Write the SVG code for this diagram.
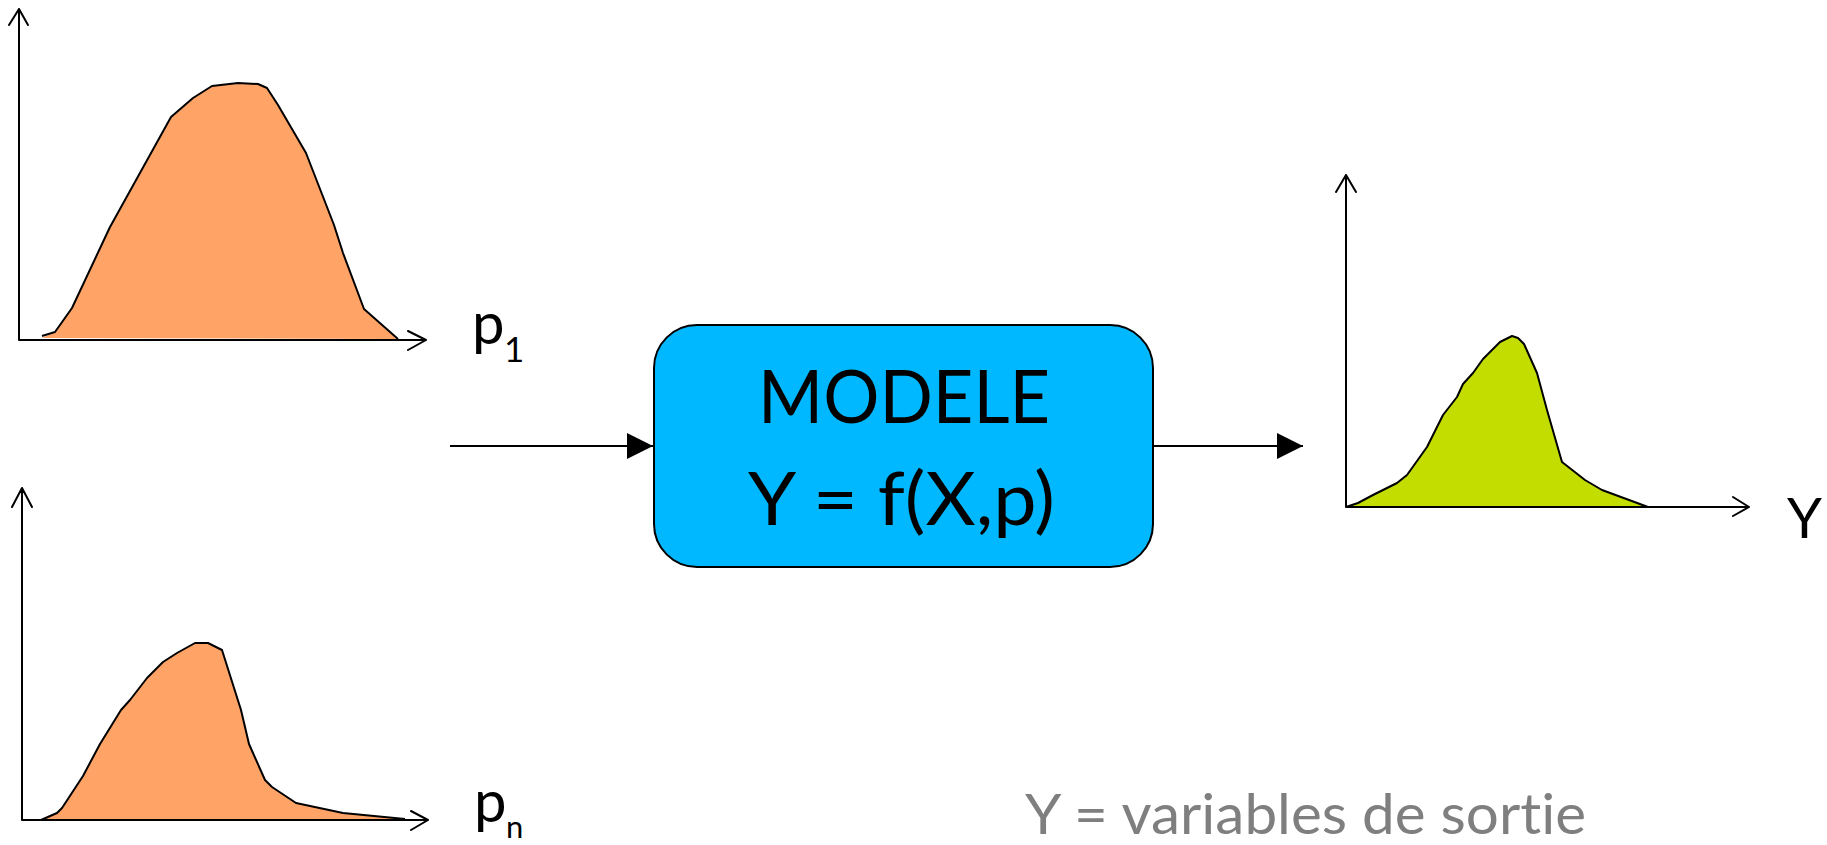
<svg xmlns="http://www.w3.org/2000/svg" width="1827" height="845" viewBox="0 0 1827 845">
<style>
.axis{fill:none;stroke:#000;stroke-width:2;stroke-linecap:round;stroke-linejoin:round}
.orange{fill:#FFA466;stroke:none}
.green{fill:#C4DD00;stroke:none}
.curve{fill:none;stroke:#000;stroke-width:2;stroke-linejoin:round}
.lbl{font-family:Lato,"Open Sans","Liberation Sans",sans-serif;fill:#000;font-variant-ligatures:none;font-feature-settings:"liga" 0,"clig" 0}
.conn{stroke:#000;stroke-width:2;fill:none}
</style>
<defs>
<marker id="tri" viewBox="0 0 26 26" refX="26" refY="13" markerWidth="26" markerHeight="26" markerUnits="userSpaceOnUse" orient="auto">
<path d="M0,0 L26,13 L0,26 Z" fill="#000"/>
</marker>
</defs>
<rect width="1827" height="845" fill="#fff"/>

<g id="plot-p1">
<path class="orange" d="M42,338 L55,332 L72,308 L110,227 L171,117 L193,98 L212,86 L238,83 L258,84 L267,88 L278,105 L306,153 L334,225 L343,253 L364,309 L398,339 Z"/>
<path class="curve" d="M42,336 L55,332 L72,308 L110,227 L171,117 L193,98 L212,86 L238,83 L258,84 L267,88 L278,105 L306,153 L334,225 L343,253 L364,309 L398,339"/>
<path class="axis" d="M19,9 L19,340 L426,340 M9,25 L19,9 L28,25 M408,331 L426,340 L408,350"/>
<text class="lbl" x="472" y="344" font-size="58">p</text>
<text class="lbl" x="504" y="362" font-size="35">1</text>
</g>

<g id="plot-pn">
<path class="orange" d="M41,820 L57,813 L62,808 L83,776 L100,744 L121,710 L130,700 L147,678 L163,662 L177,653 L195,643 L208,643 L222,650 L241,710 L249,744 L265,780 L272,787 L296,803 L343,813 L405,819 Z"/>
<path class="curve" d="M41,820 L57,813 L62,808 L83,776 L100,744 L121,710 L130,700 L147,678 L163,662 L177,653 L195,643 L208,643 L222,650 L241,710 L249,744 L265,780 L272,787 L296,803 L343,813 L405,819"/>
<path class="axis" d="M22,488 L22,820 L428,820 M12,507 L22,488 L32,507 M411,811 L428,820 L411,830"/>
<text class="lbl" x="474" y="822" font-size="58">p</text>
<text class="lbl" x="506" y="838" font-size="31">n</text>
</g>

<g id="plot-y">
<path class="green" d="M1346,507 L1358,503 L1373,495 L1397,483 L1407,475 L1427,447 L1443,415 L1457,397 L1463,384 L1473,373 L1483,359 L1489,353 L1500,342 L1512,336 L1518,338 L1524,344 L1537,373 L1547,410 L1562,462 L1585,480 L1602,490 L1648,507 Z"/>
<path class="curve" d="M1346,507 L1358,503 L1373,495 L1397,483 L1407,475 L1427,447 L1443,415 L1457,397 L1463,384 L1473,373 L1483,359 L1489,353 L1500,342 L1512,336 L1518,338 L1524,344 L1537,373 L1547,410 L1562,462 L1585,480 L1602,490 L1648,507"/>
<path class="axis" d="M1346,175 L1346,507 L1749,507 M1336,192 L1346,175 L1356,192 M1733,497 L1749,507 L1733,516"/>
<text class="lbl" x="1787" y="538" font-size="56">Y</text>
</g>

<g id="connectors">
<line class="conn" x1="450" y1="446" x2="653" y2="446" marker-end="url(#tri)"/>
<line class="conn" x1="1153" y1="446" x2="1303" y2="446" marker-end="url(#tri)"/>
</g>

<g id="modele">
<rect x="654" y="325" width="499" height="242" rx="43" ry="43" fill="#00B8FF" stroke="#000" stroke-width="2"/>
<text class="lbl" x="758" y="423" font-size="74" textLength="292" lengthAdjust="spacingAndGlyphs">MODELE</text>
<text class="lbl" x="748" y="525" font-size="74" textLength="307" lengthAdjust="spacingAndGlyphs">Y = f(X,p)</text>
</g>

<g id="legend">
<text class="lbl" x="1025" y="834" font-size="57" style="fill:#7F7F7F" textLength="561" lengthAdjust="spacingAndGlyphs">Y = variables de sortie</text>
</g>
</svg>
